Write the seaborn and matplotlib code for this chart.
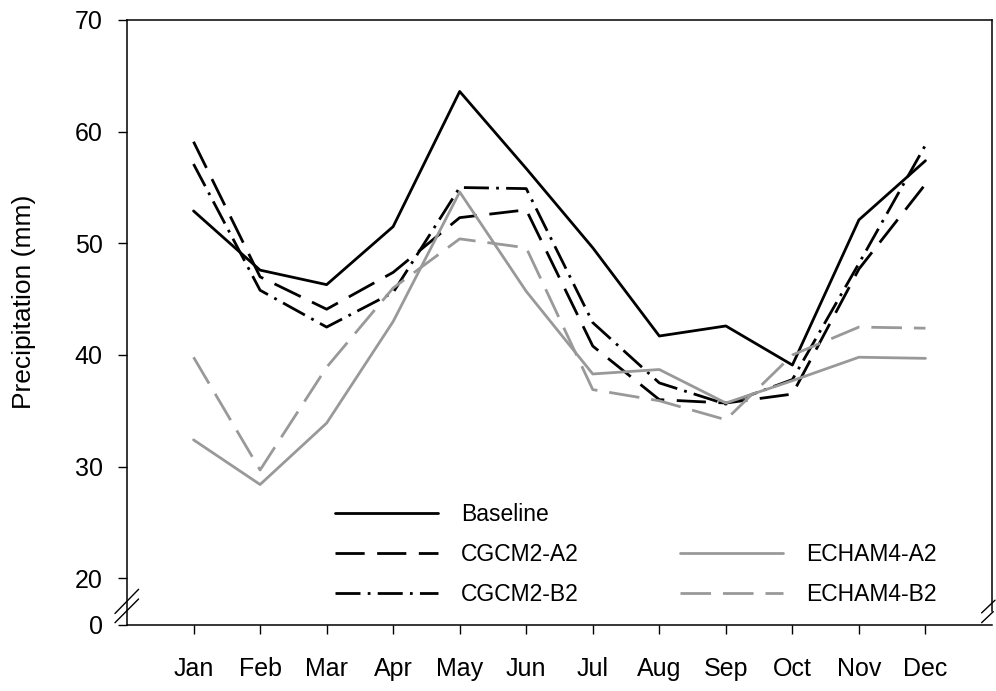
import numpy as np
import pandas as pd
import matplotlib
matplotlib.use("Agg")
import matplotlib.pyplot as plt
from matplotlib.lines import Line2D
import seaborn as sns

months = ["Jan", "Feb", "Mar", "Apr", "May", "Jun",
          "Jul", "Aug", "Sep", "Oct", "Nov", "Dec"]
baseline = [52.9, 47.6, 46.3, 51.5, 63.6, 56.7, 49.6, 41.7, 42.6, 39.1, 52.1, 57.4]
cgcm2_a2 = [59.1, 47.0, 44.1, 47.4, 52.3, 53.0, 40.8, 36.0, 35.7, 36.5, 47.7, 55.3]
cgcm2_b2 = [57.1, 45.8, 42.5, 45.6, 55.0, 54.9, 42.9, 37.5, 35.6, 37.8, 48.2, 58.8]
echam4_a2 = [32.4, 28.4, 33.9, 43.0, 54.6, 45.7, 38.3, 38.7, 35.7, 37.7, 39.8, 39.7]
echam4_b2 = [39.8, 29.7, 38.9, 46.0, 50.4, 49.6, 36.9, 35.9, 34.2, 40.0, 42.5, 42.4]

series_names = ["Baseline", "CGCM2-A2", "CGCM2-B2", "ECHAM4-A2", "ECHAM4-B2"]
series_values = [baseline, cgcm2_a2, cgcm2_b2, echam4_a2, echam4_b2]
y_ticks = [0, 20, 30, 40, 50, 60, 70]

df = pd.DataFrame({
    "month": np.tile(np.arange(len(months)), len(series_names)),
    "precip": np.concatenate(series_values),
    "series": np.repeat(series_names, len(months)),
})

grey = "#999999"
palette = {"Baseline": "black", "CGCM2-A2": "black", "CGCM2-B2": "black",
           "ECHAM4-A2": grey, "ECHAM4-B2": grey}
dashes = {"Baseline": "", "CGCM2-A2": (10.5, 4.5), "CGCM2-B2": (9, 2.6, 1, 2.6),
          "ECHAM4-A2": "", "ECHAM4-B2": (11, 4.3)}

sns.set_style("ticks")
plt.rcParams["font.family"] = ["Liberation Sans", "DejaVu Sans"]
plt.rcParams["text.color"] = "black"
plt.rcParams["axes.labelcolor"] = "black"

fig = plt.figure(figsize=(9.96, 6.91), dpi=100)
ax = fig.add_axes([127 / 996, 66 / 691, 865 / 996, 605 / 691])

# compressed segment below 20 for the broken axis
def fwd(y):
    y = np.asarray(y, dtype=float)
    return np.where(y >= 20, y, 20 - (20 - y) * 4.18 / 20)

def inv(y):
    y = np.asarray(y, dtype=float)
    return np.where(y >= 20, y, 20 - (20 - y) * 20 / 4.18)

ax.set_yscale("function", functions=(fwd, inv))

sns.lineplot(data=df, x="month", y="precip", hue="series", style="series",
             palette=palette, dashes=dashes, linewidth=2.0, legend=False, ax=ax)

ax.set_xlim(-1, 12)
ax.set_ylim(0, 70)
ax.set_xticks(range(len(months)))
ax.set_xticklabels(months)
ax.set_yticks(y_ticks)
ax.set_yticklabels([str(t) for t in y_ticks])
ax.set_xlabel("")
ax.set_ylabel("Precipitation (mm)", fontsize=19)
ax.yaxis.set_label_coords(-0.105, 0.535)

for s in ax.spines.values():
    s.set_linewidth(1.1)
    s.set_color("black")
ax.spines["right"].set_bounds(6, 70)

ax.tick_params(axis="both", direction="out", length=6.5, width=1.0,
               labelsize=18, colors="black")
ax.tick_params(axis="x", pad=16.5)
ax.tick_params(axis="y", pad=11)

# break marks on the left and right edges
kw = dict(transform=ax.transAxes, color="black", lw=1.0, clip_on=False)
ax.plot([-0.0139, 0.0134], [0.019, 0.059], **kw)
ax.plot([-0.0139, 0.0134], [0.0038, 0.043], **kw)
ax.plot([0.988, 1.0035], [0.020, 0.041], **kw)
ax.plot([0.988, 1.0015], [0.0038, 0.0221], **kw)

# legend: two columns, first slot of the second column left empty
handles = [Line2D([], [], color=palette[n], lw=2.0,
                  linestyle="-" if not dashes[n] else (0, dashes[n]))
           for n in series_names]
blank = Line2D([], [], alpha=0)
leg_handles = [handles[0], handles[1], handles[2], blank, handles[3], handles[4]]
leg_labels = ["Baseline", "CGCM2-A2", "CGCM2-B2", "", "ECHAM4-A2", "ECHAM4-B2"]
ax.legend(leg_handles, leg_labels, ncol=2, frameon=False, fontsize=16.5,
          handlelength=4.5, handletextpad=1.0, columnspacing=4.4,
          labelspacing=0.74, borderpad=0, borderaxespad=0,
          loc="upper left", bbox_to_anchor=(335 / 996, (691 - 503) / 691),
          bbox_transform=fig.transFigure)

fig.savefig("out.png", dpi=100)
